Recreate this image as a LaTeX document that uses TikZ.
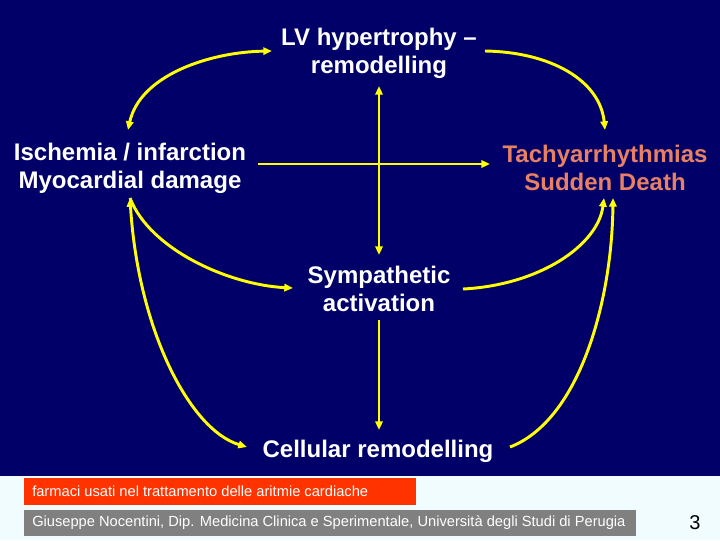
\documentclass[tikz,border=0pt]{standalone}
\usepackage{fontspec}
\setmainfont{Liberation Sans}
\usetikzlibrary{arrows.meta,calc}
\definecolor{navy}{RGB}{0,0,104}
\definecolor{footbg}{RGB}{240,252,255}
\definecolor{redbox}{RGB}{255,51,0}
\definecolor{graybox}{RGB}{128,128,128}
\definecolor{salmon}{RGB}{232,128,100}
\definecolor{yel}{RGB}{255,255,0}
\begin{document}
\begin{tikzpicture}[x=0.75pt,y=-0.75pt,
  lbl/.style={font=\fontsize{18}{21}\selectfont\bfseries, text=white, align=center, inner sep=0pt},
  con/.style={draw=yel, line width=2.2pt, -{Triangle[length=6.5pt,width=5.5pt]}},
  dcon/.style={con, {Triangle[length=6.5pt,width=5.5pt]}-{Triangle[length=6.5pt,width=5.5pt]}},
  foot/.style={font=\fontsize{11}{13}\selectfont, text=white, anchor=west, inner sep=0pt},
]
\useasboundingbox (0,0) rectangle (720,540);
\fill[footbg] (0,0) rectangle (720,540);
\fill[navy] (0,0) rectangle (720,476);

% main labels
\node[lbl] (lv)   at (379,53)  {LV hypertrophy –\\remodelling};
\node[lbl] (isc)  at (130,168) {Ischemia / infarction\\Myocardial damage};
\node[lbl, text=salmon] (tac) at (605,168) {Tachyarrhythmias\\Sudden Death};
\node[lbl] (sym)  at (379,289) {Sympathetic\\activation};
\node[lbl] (cel)  at (378,451) {Cellular remodelling};

% connectors
\draw[dcon] ($(isc)+(-2,-38)$) .. controls +(12,-55) and +(-62,1) .. ($(lv)+(-107,-2)$);
\draw[con]  ($(lv)+(106,-2)$) .. controls +(65,1) and +(-5,-50) .. ($(tac)+(0,-38)$);
\draw[con]  ($(isc)+(128,-4)$) -- ($(tac)+(-115,-4)$);
\draw[dcon, line width=1.8pt] ($(lv)+(0,33)$) -- ($(sym)+(0,-34)$);
\draw[con]  ($(isc)+(0,30)$) .. controls +(20,52) and +(-63,-3) .. ($(sym)+(-86,-1)$);
\draw[dcon] ($(isc)+(0,30)$) .. controls +(8,132) and +(-57,-17) .. ($(cel)+(-131,-4)$);
\draw[con]  ($(sym)+(84,0)$) .. controls +(77,-4) and +(-6,47) .. ($(tac)+(-1,30)$);
\draw[con]  ($(cel)+(132,-4)$) .. controls +(70,-27) and +(-1,102) .. ($(tac)+(8,30)$);
\draw[con, line width=1.8pt] ($(sym)+(0,31)$) -- ($(cel)+(1,-21)$);

% footer
\fill[redbox] (24,478) rectangle (416,505);
\fill[graybox] (24,510) rectangle (636,536);
\node[foot] (f1) at (32,491) {farmaci usati nel trattamento delle aritmie cardiache};
\node[foot] (f2) at (32,523) {Giuseppe Nocentini, Dip. Medicina Clinica e Sperimentale, Università degli Studi di Perugia};
\node[font=\fontsize{15}{18}\selectfont, text=black, inner sep=0pt] (pg) at (695,523) {3};
\end{tikzpicture}
\end{document}
